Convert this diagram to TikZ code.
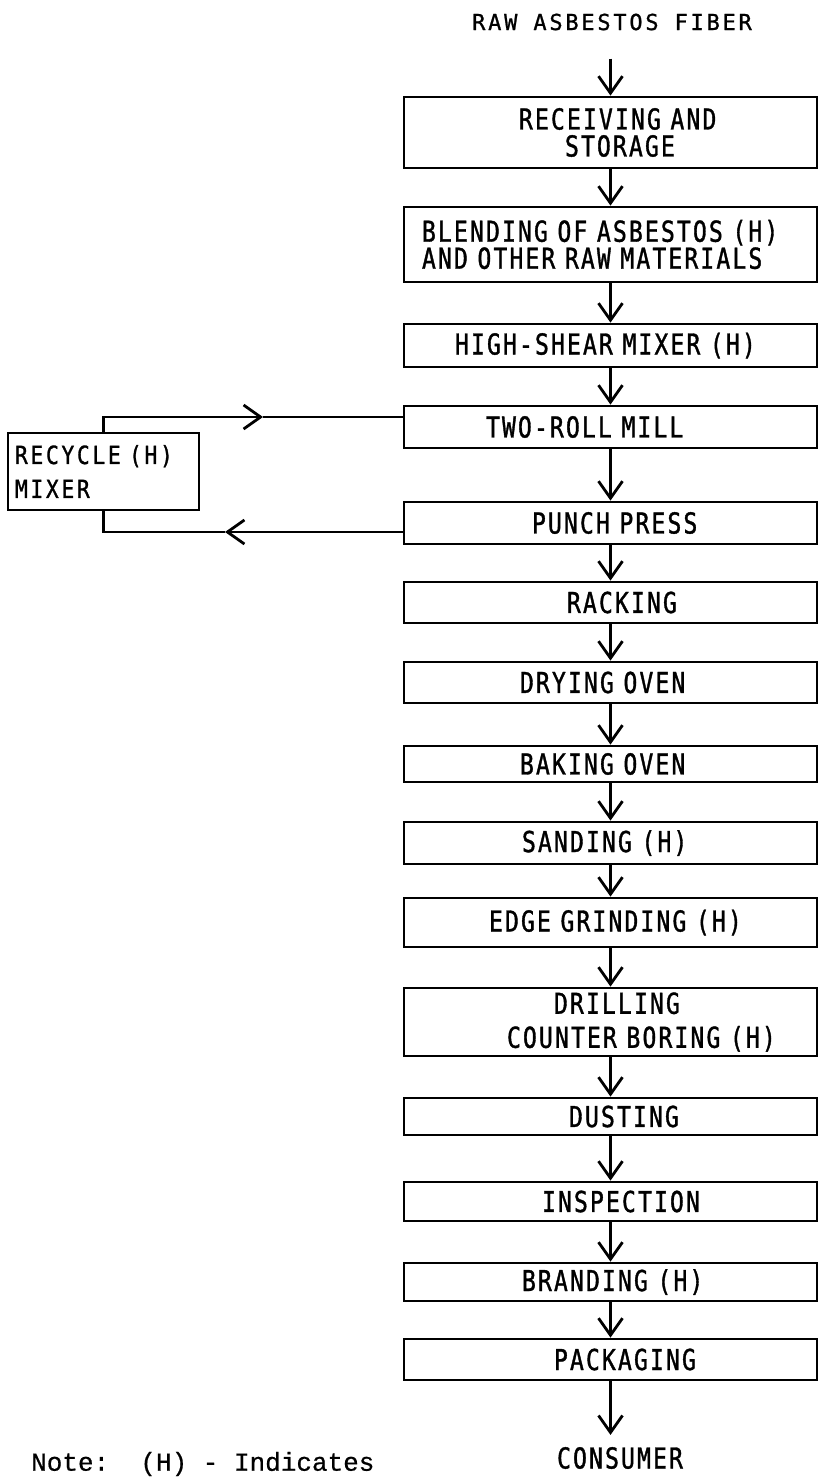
\documentclass[tikz,border=0pt]{standalone}
\usepackage{fontspec}
\usetikzlibrary{arrows.meta}
\newfontfamily\boxfont{DejaVu Sans Mono}[FakeStretch=0.8, LetterSpace=7.4, FakeBold=1.2]
\newfontfamily\recfont{DejaVu Sans Mono}[FakeStretch=0.85, LetterSpace=10.8, FakeBold=1.2]
\newfontfamily\rawfont{DejaVu Sans Mono}[LetterSpace=12.5, FakeBold=1]
\newfontfamily\notefont{Liberation Mono}[FakeBold=0.6]
\newcommand\boxtxt{\boxfont\fontsize{28.8}{27}\selectfont}
\newcommand\rectxt{\recfont\fontsize{25}{34}\selectfont}
\newcommand\rawtxt{\rawfont\fontsize{22}{24}\selectfont}
\begin{document}
\begin{tikzpicture}[x=1pt,y=-1pt,
  box/.style={draw, line width=2.8pt, inner sep=0pt, text width=413pt, align=left,
              font=\boxtxt},
  recbox/.style={draw, line width=2.8pt, inner sep=0pt, text width=191pt, align=left,
              font=\rectxt},
  arr/.style={-{Straight Barb[length=17pt,width=24pt]}, line width=2.8pt},
  flow/.style={line width=2.8pt}]
\useasboundingbox (0,0) rectangle (825,1480);

% title
\node[inner sep=0pt, font=\rawtxt] (raw) at (612,22) {RAW ASBESTOS FIBER};

% main column
\node[box, minimum height=71] (recv) at (610.5,132.5) {\hspace*{115pt}RECEIVING AND\\\hspace*{161pt}STORAGE};
\node[box, minimum height=75] (blend) at (610.5,244.5) {\hspace*{18pt}BLENDING OF ASBESTOS (H)\\\hspace*{18pt}AND OTHER RAW MATERIALS};
\node[box, minimum height=43] (shear) at (610.5,345.5) {\hspace*{51pt}HIGH-SHEAR MIXER (H)};
\node[box, minimum height=42] (two) at (610.5,427) {\hspace*{82pt}TWO-ROLL MILL};
\node[box, minimum height=42] (punch) at (610.5,523) {\hspace*{128pt}PUNCH PRESS};
\node[box, minimum height=41] (rack) at (610.5,602.5) {\hspace*{163pt}RACKING};
\node[box, minimum height=41] (dry) at (610.5,682.5) {\hspace*{116pt}DRYING OVEN};
\node[box, minimum height=36] (bake) at (610.5,764) {\hspace*{116pt}BAKING OVEN};
\node[box, minimum height=42] (sand) at (610.5,843) {\hspace*{118pt}SANDING (H)};
\node[box, minimum height=49] (edge) at (610.5,922.5) {\hspace*{85pt}EDGE GRINDING (H)};
\node[box, minimum height=68] (drill) at (610.5,1022) {\hspace*{150pt}DRILLING\\[7pt]\hspace*{103pt}COUNTER BORING (H)};
\node[box, minimum height=37] (dust) at (610.5,1116.5) {\hspace*{165pt}DUSTING};
\node[box, minimum height=39] (insp) at (610.5,1201.5) {\hspace*{138pt}INSPECTION};
\node[box, minimum height=38] (brand) at (610.5,1282) {\hspace*{118pt}BRANDING (H)};
\node[box, minimum height=41] (pack) at (610.5,1359.5) {\hspace*{150pt}PACKAGING};

\node[inner sep=0pt, font=\boxtxt] (cons) at (620,1458) {CONSUMER};

% recycle mixer
\node[recbox, minimum height=77] (rcy) at (103.5,471.5) {\hspace*{7pt}RECYCLE (H)\\\hspace*{7pt}MIXER};

% note
\node[anchor=west, inner sep=0pt, font=\notefont\fontsize{26}{30}\selectfont] (note) at (31,1464) {Note:\ \ (H) - Indicates};

% vertical flow
\draw[arr, shorten <=28pt] (recv.north |- raw.south) -- (recv.north);
\draw[arr] (recv) -- (blend);
\draw[arr] (blend) -- (shear);
\draw[arr] (shear) -- (two);
\draw[arr] (two) -- (punch);
\draw[arr] (punch) -- (rack);
\draw[arr] (rack) -- (dry);
\draw[arr] (dry) -- (bake);
\draw[arr] (bake) -- (sand);
\draw[arr] (sand) -- (edge);
\draw[arr] (edge) -- (drill);
\draw[arr] (drill) -- (dust);
\draw[arr] (dust) -- (insp);
\draw[arr] (insp) -- (brand);
\draw[arr] (brand) -- (pack);
\draw[arr, shorten >=12pt] (pack.south) -- (pack.south |- cons.north);

% recycle loop
\coordinate (tin) at (two.west |- 0,417);
\coordinate (m1) at (263,417);
\draw[arr] (rcy.north) |- (m1);
\draw[flow] (m1) -- (tin);
\coordinate (pout) at (punch.west |- 0,532);
\coordinate (m2) at (225,532);
\draw[arr] (pout) -- (m2);
\draw[flow] (m2) -| (rcy.south);
\end{tikzpicture}
\end{document}
